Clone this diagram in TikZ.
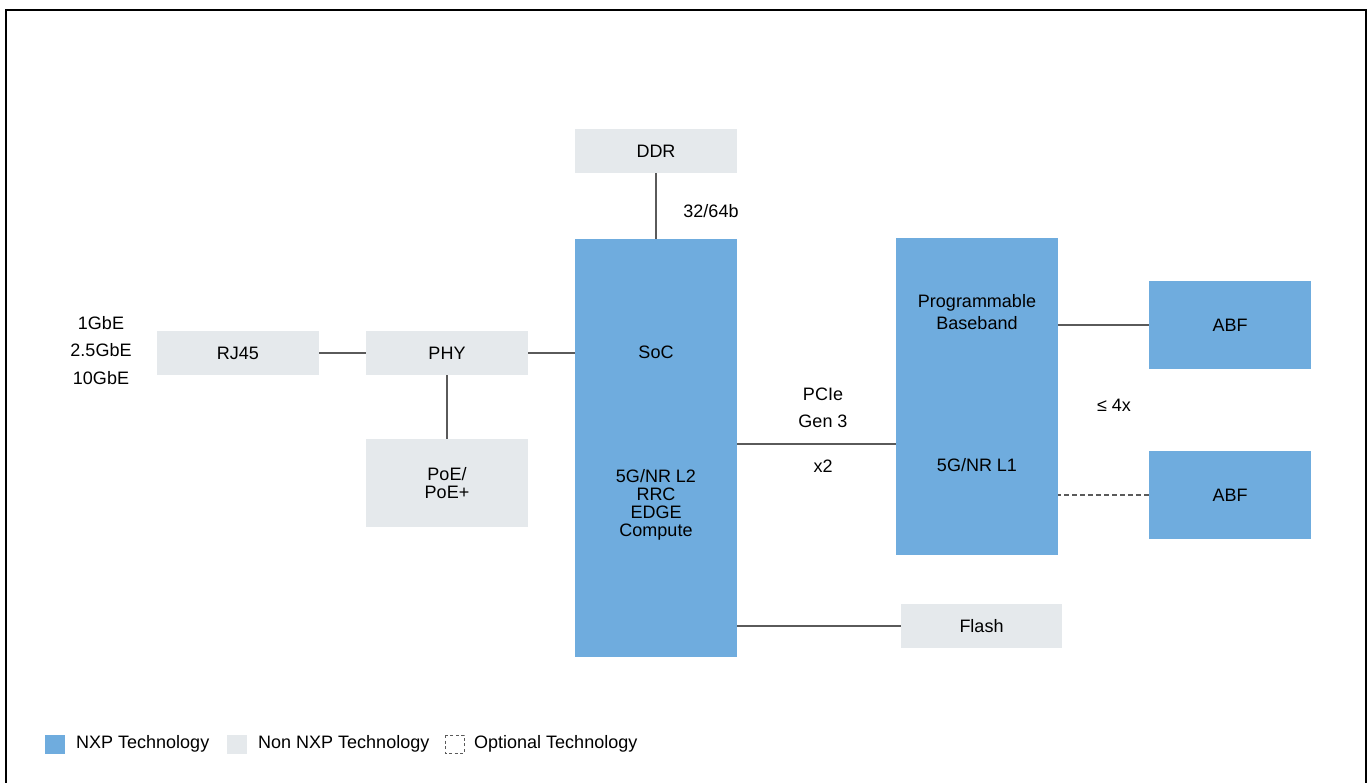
\documentclass[tikz,border=0pt]{standalone}
\usepackage{fontspec}
\setmainfont{Liberation Sans}
\definecolor{nxpblue}{RGB}{111,172,222}
\definecolor{nonnxp}{RGB}{229,233,236}
\definecolor{wire}{RGB}{90,90,90}
\tikzset{
  nxp/.style={fill=nxpblue,inner sep=0pt,align=center},
  other/.style={fill=nonnxp,inner sep=0pt,align=center},
  link/.style={draw=wire,line width=1.1pt},
  lbl/.style={inner sep=0pt,align=center}
}
\begin{document}
\begin{tikzpicture}[x=1pt,y=-1pt,font=\fontsize{18}{19}\selectfont]
    \useasboundingbox (0,0) rectangle (1369,783);
    \draw[line width=2.2pt] (6,790) -- (6,10) -- (1366,10) -- (1366,790);
    % non NXP parts
    \node[other,minimum width=162,minimum height=44] (ddr) at (656,151) {DDR};
    \node[other,minimum width=162,minimum height=44] (rj) at (238,353) {RJ45};
    \node[other,minimum width=162,minimum height=44] (phy) at (447,353) {PHY};
    \node[other,minimum width=162,minimum height=88,
      font=\fontsize{18}{18.5}\selectfont] (poe) at (447,483) {PoE/\\PoE+};
    \node[other,minimum width=161,minimum height=44] (flash) at (981.5,626) {Flash};
    % NXP parts
    \node[nxp,minimum width=162,minimum height=418] (soc) at (656,448) {};
    \node[nxp,minimum width=162,minimum height=317] (bb) at (977,396.5) {};
    \node[nxp,minimum width=162,minimum height=88] (abf1) at (1230,325) {ABF};
    \node[nxp,minimum width=162,minimum height=88] (abf2) at (1230,495) {ABF};
    \node[lbl] (soct) at (656,352) {SoC};
    \node[lbl,font=\fontsize{18}{17.8}\selectfont] (l2) at (656,505)
      {5G/NR L2\\RRC\\EDGE\\Compute};
    \node[lbl,font=\fontsize{18}{21.5}\selectfont] (bbt) at (977,312)
      {Programmable\\Baseband};
    \node[lbl] (l1) at (977,465) {5G/NR L1};
    % links
    \draw[link] (ddr) -- (soc);
    \draw[link] (rj) -- (phy);
    \draw[link] (phy) -- (phy -| soc.west);
    \draw[link] (phy) -- (poe);
    \draw[link] (soc.east |- 0,444) -- (bb.west |- 0,444);
    \draw[link] (abf1.west) -- (abf1.west -| bb.east);
    \draw[link,dashed,dash pattern=on 5pt off 3pt] (abf2.west) -- (abf2.west -| bb.east);
    \draw[link] (flash.west) -- (flash.west -| soc.east);
    % labels
    \node[lbl] (bus) at (711,211) {32/64b};
    \foreach \t/\y [count=\i] in {1GbE/323,2.5GbE/350,10GbE/378}
      \node[lbl] (speed\i) at (101,\y) {\t};
    \node[lbl] (pcie) at (823,394) {PCIe};
    \node[lbl] (gen) at (823,421) {Gen 3};
    \node[lbl] (lanes) at (823,466) {x2};
    \node[lbl] (cnt) at (1114,405) {≤ 4x};
    % legend
    \filldraw[nxpblue] (45,735) rectangle (64,753);
    \filldraw[nonnxp] (227,735) rectangle (246,753);
    \draw[wire,dashed,dash pattern=on 3pt off 2.5pt,line width=0.9pt] (445,735) rectangle (464,753);
    \node[lbl,anchor=west] (leg1) at (76,744) {NXP Technology};
    \node[lbl,anchor=west] (leg2) at (258,744) {Non NXP Technology};
    \node[lbl,anchor=west] (leg3) at (474,744) {Optional Technology};
  \end{tikzpicture}
\end{document}
